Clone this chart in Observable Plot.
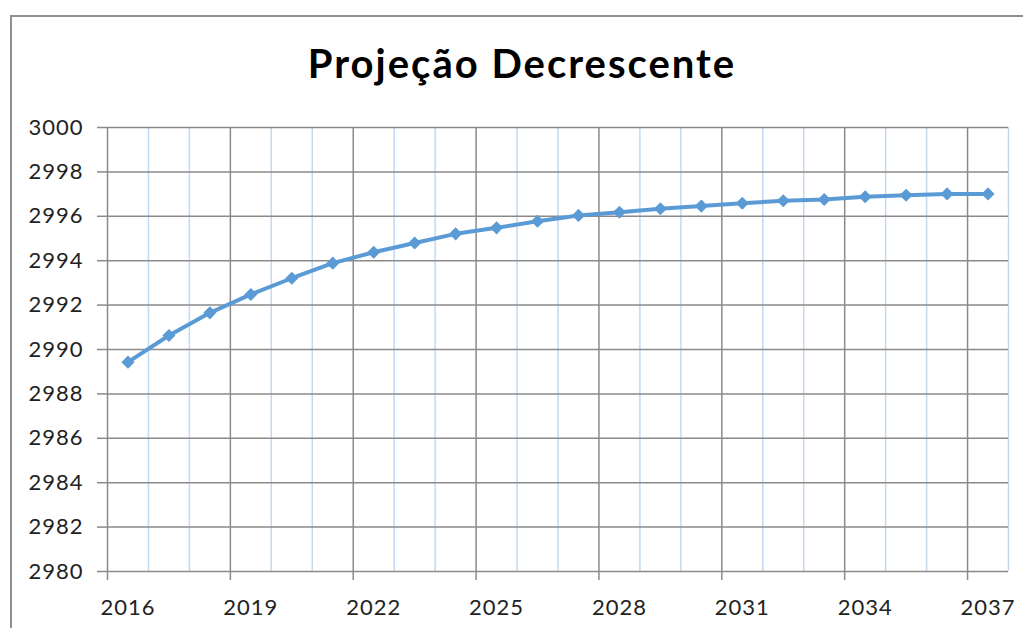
<!DOCTYPE html>
<html>
<head>
<meta charset="utf-8">
<script src="https://cdn.jsdelivr.net/npm/d3@7"></script>
<script src="https://cdn.jsdelivr.net/npm/@observablehq/plot@0.6"></script>
<style>
  html, body { margin: 0; padding: 0; background: #fff; }
  #wrap { position: relative; width: 1023px; height: 628px; overflow: hidden; font-family: Lato, "Open Sans", sans-serif; }
  #border { position: absolute; left: 10px; top: 15px; right: -5px; bottom: -5px; border-left: 2px solid #8f8f8f; border-top: 2px solid #8f8f8f; }
  #title { position: absolute; left: 0; width: 1044px; top: 38px; text-align: center; font-size: 40px; font-weight: 700; letter-spacing: 2px; color: #000; line-height: 50px; }
  #chart { position: absolute; left: 0; top: 100px; }
</style>
</head>
<body>
<div id="wrap">
  <div id="border"></div>
  <div id="title">Projeção Decrescente</div>
  <div id="chart"></div>
</div>
<script>
const years = [2016, 2017, 2018, 2019, 2020, 2021, 2022, 2023, 2024, 2025, 2026,
               2027, 2028, 2029, 2030, 2031, 2032, 2033, 2034, 2035, 2036, 2037];
const values = [2989.43, 2990.63, 2991.65, 2992.48, 2993.21, 2993.89, 2994.38, 2994.8,
                2995.21, 2995.48, 2995.78, 2996.04, 2996.18, 2996.34, 2996.46, 2996.59,
                2996.7, 2996.76, 2996.88, 2996.95, 2997.01, 2997.01];
const xTickLabels = [2016, 2019, 2022, 2025, 2028, 2031, 2034, 2037];
const yTicks = [2980, 2982, 2984, 2986, 2988, 2990, 2992, 2994, 2996, 2998, 3000];

const data = years.map((year, i) => ({year, value: values[i]}));
// category boundaries (Excel "between tick marks" layout)
const boundaries = years.map(y => y - 0.5).concat([years[years.length - 1] + 0.5]);
const majorBoundaries = boundaries.filter((b, i) => i % 3 === 0);
const minorBoundaries = boundaries.filter((b, i) => i % 3 !== 0);

const gray = "#8a8a8a";
const plot = Plot.plot({
  width: 1023,
  height: 528,
  marginTop: 27,
  marginBottom: 57,
  marginLeft: 107,
  marginRight: 15,
  style: {fontFamily: "Lato, 'Open Sans', sans-serif", fontSize: "22px", letterSpacing: "1px", color: "#222", background: "transparent"},
  x: {type: "linear", domain: [boundaries[0], boundaries[boundaries.length - 1]]},
  y: {domain: [2980, 3000]},
  marks: [
    Plot.ruleX(minorBoundaries, {stroke: "#c2d9f2", strokeWidth: 1.5, y1: 2980, y2: 3000}),
    Plot.ruleY(yTicks, {stroke: gray, strokeWidth: 1.5}),
    Plot.ruleX(majorBoundaries, {stroke: gray, strokeWidth: 1.5, y1: 2980, y2: 3000}),
    Plot.axisY({ticks: yTicks, tickSize: 10, tickPadding: 14, stroke: gray, strokeWidth: 1.5, strokeOpacity: 1, tickFormat: d => String(d), label: null}),
    Plot.axisX({ticks: majorBoundaries, tickSize: 9, stroke: gray, strokeWidth: 1.5, strokeOpacity: 1, tickFormat: () => "", label: null}),
    Plot.axisX({ticks: xTickLabels, tickSize: 0, tickPadding: 28, tickFormat: d => String(d), label: null}),
    Plot.line(data, {x: "year", y: "value", stroke: "#5b9bd5", strokeWidth: 4}),
    Plot.dot(data, {x: "year", y: "value", symbol: "diamond2", r: 5.9, fill: "#5b9bd5", stroke: "none"})
  ]
});
document.getElementById("chart").appendChild(plot);
</script>
</body>
</html>
